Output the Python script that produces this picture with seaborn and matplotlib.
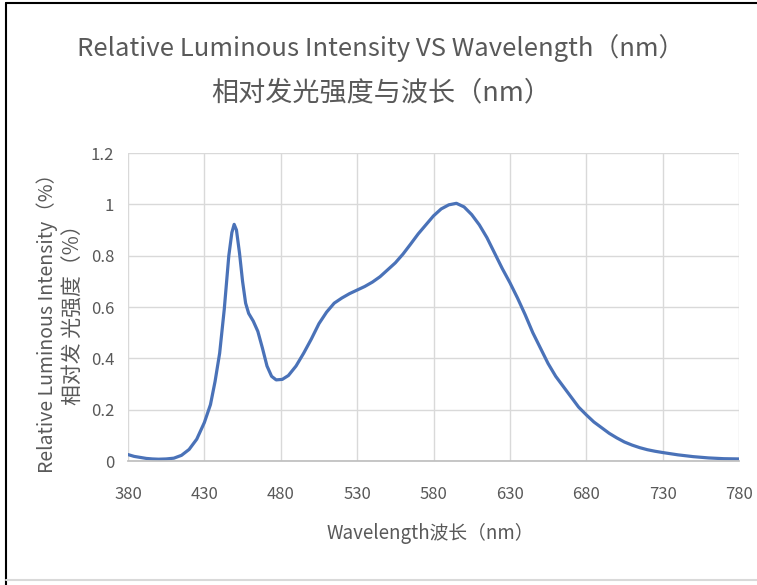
import matplotlib
matplotlib.use("Agg")
import matplotlib.pyplot as plt
import seaborn as sns
import pandas as pd
from matplotlib.lines import Line2D

wavelength = [380, 384, 388, 392, 396, 400, 405, 410, 415, 420, 425, 430, 434, 437,
              440, 443, 446, 448, 449.5, 451, 453, 455, 457, 459, 462, 465, 468, 471,
              474, 477, 481, 485, 490, 495, 500, 505, 510, 515, 520, 525, 530, 535,
              540, 545, 550, 555, 560, 565, 570, 575, 580, 585, 590, 595, 600, 605,
              610, 615, 620, 625, 630, 635, 640, 645, 650, 655, 660, 665, 670, 675,
              680, 685, 690, 695, 700, 705, 710, 715, 720, 725, 730, 740, 750, 760,
              770, 780]
intensity = [0.025, 0.018, 0.014, 0.010, 0.008, 0.007, 0.008, 0.011, 0.022, 0.045,
             0.085, 0.15, 0.22, 0.31, 0.42, 0.59, 0.80, 0.89, 0.922, 0.90, 0.81, 0.70,
             0.615, 0.575, 0.545, 0.505, 0.44, 0.37, 0.33, 0.316, 0.318, 0.333, 0.37,
             0.42, 0.475, 0.535, 0.58, 0.615, 0.635, 0.652, 0.666, 0.68, 0.697, 0.718,
             0.745, 0.772, 0.806, 0.845, 0.885, 0.92, 0.955, 0.982, 0.998, 1.004, 0.99,
             0.96, 0.92, 0.87, 0.81, 0.75, 0.695, 0.635, 0.57, 0.50, 0.44, 0.38, 0.33,
             0.29, 0.25, 0.21, 0.18, 0.152, 0.13, 0.108, 0.09, 0.074, 0.062, 0.052,
             0.044, 0.038, 0.033, 0.024, 0.017, 0.012, 0.009, 0.008]

x_ticks = [380, 430, 480, 530, 580, 630, 680, 730, 780]
y_ticks = [0, 0.2, 0.4, 0.6, 0.8, 1.0, 1.2]
y_tick_labels = ["0", "0.2", "0.4", "0.6", "0.8", "1", "1.2"]

title_en = "Relative Luminous Intensity VS Wavelength（nm）"
title_cn = "相对发光强度与波长（nm）"
ylabel_en = "Relative Luminous Intensity（%）"
ylabel_cn = "相对发 光强度（%）"
xlabel = "Wavelength波长（nm）"

sns.set_theme(style="white")
plt.rcParams['font.family'] = ['Noto Sans CJK SC', 'DejaVu Sans']

gray = "#595959"
df = pd.DataFrame({"wl": wavelength, "val": intensity})

fig = plt.figure(figsize=(7.57, 5.85), dpi=100)
ax = fig.add_axes([128/757, 1 - 461/585, (739 - 128)/757, (461 - 153)/585])
sns.lineplot(data=df, x="wl", y="val", ax=ax, color="#4a72b8", linewidth=2.3)

ax.set_xlim(380, 780)
ax.set_ylim(0, 1.2)
ax.set_xticks(x_ticks)
ax.set_xticklabels([str(t) for t in x_ticks])
ax.set_yticks(y_ticks)
ax.set_yticklabels(y_tick_labels)
ax.grid(True, color="#d9d9d9", linewidth=1.0)
ax.set_axisbelow(True)
for s in ["top", "right", "left"]:
    ax.spines[s].set_visible(False)
ax.spines["bottom"].set_color("#bfbfbf")
ax.tick_params(axis="both", colors=gray, labelsize=12, length=0)
ax.tick_params(axis="x", pad=18)
ax.tick_params(axis="y", pad=10)
ax.set_xlabel("")
ax.set_ylabel("")

fig.text(381/757, 1 - 48/585, title_en, ha="center", va="center", fontsize=18.5, color=gray)
fig.text(381/757, 1 - 93/585, title_cn, ha="center", va="center", fontsize=19.5, color=gray)
fig.text(430/757, 1 - 533/585, xlabel, ha="center", va="center", fontsize=13.5, color=gray)
fig.text(47/757, 1 - 318/585, ylabel_en, ha="center", va="center", rotation=90,
         fontsize=14, color=gray)
fig.text(74/757, 1 - 310/585, ylabel_cn, ha="center", va="center", rotation=90,
         fontsize=15, color=gray)

fig.add_artist(Line2D([6/757, 6/757], [0, 1 - 3/585], transform=fig.transFigure,
                      color="black", linewidth=1.5))
fig.add_artist(Line2D([6/757, 1], [1 - 3/585, 1 - 3/585], transform=fig.transFigure,
                      color="black", linewidth=1.5))
fig.add_artist(Line2D([6/757, 1], [1 - 580/585, 1 - 580/585], transform=fig.transFigure,
                      color="#d9d9d9", linewidth=1.5))

fig.savefig("out.png", dpi=100)
